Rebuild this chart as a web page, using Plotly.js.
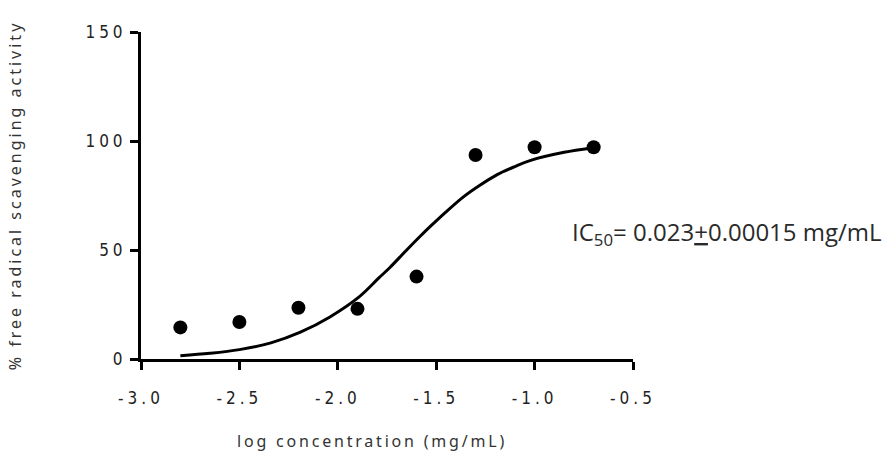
<!DOCTYPE html>
<html>
<head>
<meta charset="utf-8">
<script src="https://cdn.plot.ly/plotly-3.0.1.min.js"></script>
<style>
  html, body { margin: 0; padding: 0; background: #fff; }
  #chart { width: 884px; height: 452px; }
  .xtick text, .ytick text { letter-spacing: 4px; }
  .g-ytitle text { letter-spacing: 3px; }
  .annotation[data-index="1"] text { letter-spacing: 2.8px; }
</style>
</head>
<body>
<div id="chart"></div>
<script>
// Measured points
const logConc = [-2.8, -2.5, -2.2, -1.9, -1.6, -1.3, -1.0, -0.7];
const scavenging = [14.5, 17, 23.5, 23, 37.8, 93.6, 97.1, 97.1];

// Fitted curve
const curveX = [-2.80, -2.65, -2.50, -2.34, -2.19, -2.04, -1.89, -1.79, -1.735, -1.65, -1.58, -1.53, -1.45, -1.36, -1.28, -1.19, -1.10, -1.02, -0.85, -0.71];
const curveY = [1.5, 2.6, 4.3, 7.4, 12.3, 19.3, 28.6, 37.3, 42, 50, 56.4, 60.8, 67.5, 74.5, 79.6, 84.6, 88.3, 91.1, 94.8, 96.8];

// Axis ticks
const xTickVals = [-3.0, -2.5, -2.0, -1.5, -1.0, -0.5];
const xTickText = ['-3.0', '-2.5', '-2.0', '-1.5', '-1.0', '-0.5'];
const yTickVals = [0, 50, 100, 150];
const yTickText = ['0', '50', '100', '150'];

const xTitle = 'log concentration (mg/mL)';
const yTitle = '% free radical scavenging activity';
const ic50Text = 'IC<sub>50</sub>= 0.023<u>+</u>0.00015 mg/mL';

const tickFont = { family: 'Liberation Sans Narrow, DejaVu Sans Condensed, Liberation Sans, sans-serif', size: 17, color: '#222' };

const traces = [
  {
    x: curveX, y: curveY, type: 'scatter', mode: 'lines',
    line: { color: '#000', width: 3, shape: 'spline', smoothing: 1 },
    hoverinfo: 'skip', showlegend: false, cliponaxis: false
  },
  {
    x: logConc, y: scavenging, type: 'scatter', mode: 'markers',
    marker: { color: '#000', size: 14 },
    showlegend: false, cliponaxis: false
  }
];

const layout = {
  width: 884, height: 452,
  margin: { l: 141, r: 251, t: 32, b: 93 },
  paper_bgcolor: '#fff', plot_bgcolor: '#fff',
  showlegend: false,
  xaxis: {
    range: [-3, -0.5], tickvals: xTickVals, ticktext: xTickText,
    showline: true, linecolor: '#000', linewidth: 3,
    ticks: 'outside', ticklen: 8, tickwidth: 3, tickcolor: '#000',
    showgrid: false, zeroline: false, tickfont: tickFont,
    ticklabelstandoff: 14
  },
  yaxis: {
    range: [0, 150], tickvals: yTickVals, ticktext: yTickText,
    showline: true, linecolor: '#000', linewidth: 3,
    ticks: 'outside', ticklen: 8, tickwidth: 3, tickcolor: '#000',
    showgrid: false, zeroline: false, tickfont: tickFont,
    title: { text: yTitle, font: { family: 'Noto Sans, sans-serif', size: 16, color: '#333' }, standoff: 60 }
  },
  annotations: [
    {
      xref: 'paper', yref: 'paper', x: 0.872, y: 0.385, xanchor: 'left', yanchor: 'middle',
      text: ic50Text,
      showarrow: false,
      font: { family: 'Open Sans, Noto Sans, sans-serif', size: 24, color: '#2a2a2a' }
    },
    {
      xref: 'paper', yref: 'paper', x: 0.4695, y: -0.25, xanchor: 'center', yanchor: 'middle',
      text: xTitle,
      showarrow: false,
      font: { family: 'Noto Sans, sans-serif', size: 16, color: '#333' }
    }
  ]
};

Plotly.newPlot('chart', traces, layout, { displayModeBar: false, staticPlot: true });
</script>
</body>
</html>
